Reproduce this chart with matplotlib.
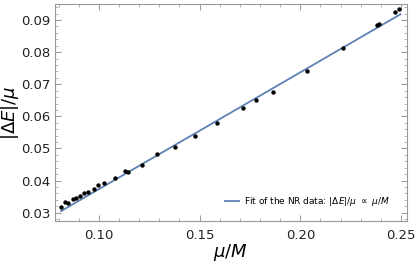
import numpy as np
import matplotlib
matplotlib.use("Agg")
import matplotlib.pyplot as plt
from matplotlib.ticker import MultipleLocator

# NR data points
mu_over_M = [0.0810, 0.0833, 0.0848, 0.0873, 0.0886, 0.0906, 0.0927, 0.0947,
             0.0975, 0.0995, 0.1023, 0.1081, 0.1132, 0.1142, 0.1212, 0.1287,
             0.1377, 0.1476, 0.1588, 0.1715, 0.1781, 0.1862, 0.2031, 0.2213,
             0.2383, 0.2391, 0.2468, 0.2490]
dE_over_mu = [0.0317, 0.0334, 0.0329, 0.0343, 0.0347, 0.0352, 0.0360, 0.0364,
              0.0375, 0.0386, 0.0392, 0.0409, 0.0430, 0.0427, 0.0449, 0.0482,
              0.0504, 0.0538, 0.0578, 0.0626, 0.0650, 0.0676, 0.0740, 0.0814,
              0.0885, 0.0887, 0.0924, 0.0935]

# fit line endpoints
fit_x = [0.0812, 0.2497]
fit_y = [0.0305, 0.0918]

fig = plt.figure(figsize=(4.15, 2.65), dpi=100)
ax = fig.add_axes([0.1325, 0.167, 0.8475, 0.818])

ax.plot(fit_x, fit_y, color="#5E81B5", lw=1.3,
        label=r"Fit of the NR data: $|\Delta E|/\mu\ \propto\ \mu/M$")
ax.scatter(mu_over_M, dE_over_mu, s=10, color="black", zorder=3, linewidths=0)

ax.set_xlim(0.0782, 0.2528)
ax.set_ylim(0.0275, 0.095)
ax.xaxis.set_major_locator(MultipleLocator(0.05))
ax.xaxis.set_minor_locator(MultipleLocator(0.01))
ax.yaxis.set_major_locator(MultipleLocator(0.01))
ax.yaxis.set_minor_locator(MultipleLocator(0.002))
ax.xaxis.set_major_formatter(plt.FormatStrFormatter("%.2f"))
ax.yaxis.set_major_formatter(plt.FormatStrFormatter("%.2f"))

for s in ax.spines.values():
    s.set_color("#999999")
    s.set_linewidth(0.8)
ax.tick_params(which="both", direction="in", top=True, right=True,
               color="#999999", labelsize=9.5, labelcolor="#222222")
ax.tick_params(which="major", length=4, width=0.7)
ax.tick_params(which="minor", length=2, width=0.5)
ax.tick_params(axis="x", pad=6)

ax.set_xlabel(r"$\mu/M$", fontsize=13, labelpad=0)
ax.set_ylabel(r"$|\Delta E|/\mu$", fontsize=13, labelpad=0)

ax.legend(loc="lower right", frameon=False, fontsize=6.5, handlelength=1.5,
          handletextpad=0.6, bbox_to_anchor=(0.975, 0.02))

fig.savefig("out.png", dpi=100)
